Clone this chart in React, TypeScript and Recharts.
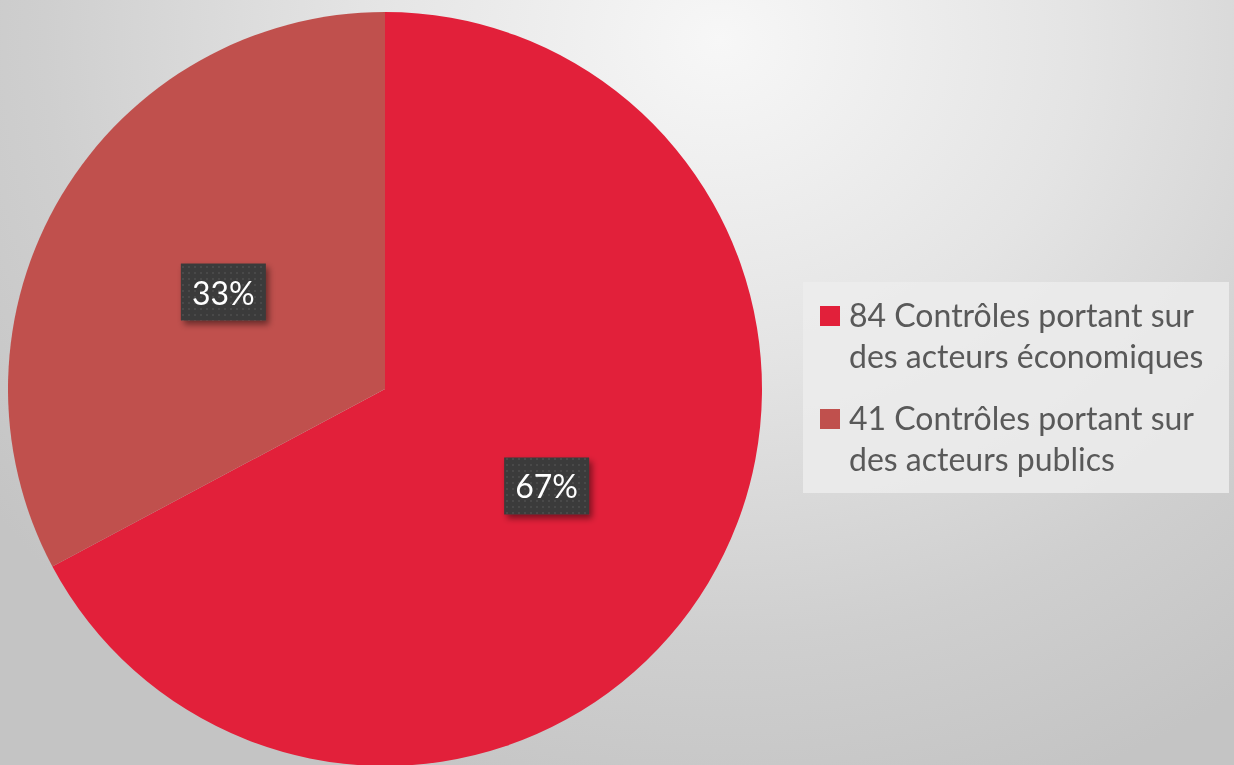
import { PieChart, Pie, Cell, Legend } from 'recharts';

const categories = [
  '84 Contrôles portant sur des acteurs économiques',
  '41 Contrôles portant sur des acteurs publics',
];
const counts = [84, 41];
const colors = ['#E2203A', '#C0504D'];

const data = categories.map((name, i) => ({ name, value: counts[i] }));

const RAD = Math.PI / 180;

function renderLabel(props: any) {
  const { cx, cy, midAngle, outerRadius, percent, index } = props;
  const r = outerRadius * 0.5;
  const x = cx + r * Math.cos(-midAngle * RAD);
  const y = cy + r * Math.sin(-midAngle * RAD);
  const w = 85;
  const h = 57;
  const pid = `dots-${index}`;
  const fid = `shadow-${index}`;
  return (
    <g>
      <defs>
        <pattern id={pid} width="6" height="6" patternUnits="userSpaceOnUse">
          <rect width="6" height="6" fill="#3a3a3a" />
          <rect x="2" y="2" width="2" height="2" fill="#4a4a4a" />
        </pattern>
        <filter id={fid} x="-30%" y="-30%" width="160%" height="160%">
          <feDropShadow dx="3" dy="4" stdDeviation="3" floodColor="#000" floodOpacity="0.45" />
        </filter>
      </defs>
      <rect x={x - w / 2} y={y - h / 2} width={w} height={h} fill={`url(#${pid})`} filter={`url(#${fid})`} />
      <text
        x={x}
        y={y}
        fill="#ffffff"
        fontSize={32}
        fontFamily="Lato, sans-serif"
        textAnchor="middle"
        dominantBaseline="central"
      >
        {`${Math.round(percent * 100)}%`}
      </text>
    </g>
  );
}

function renderLegend(props: any) {
  // keep the series order (the default sorter puts "41" first)
  const payload = [...props.payload].sort(
    (a: any, b: any) => categories.indexOf(a.value) - categories.indexOf(b.value)
  );
  return (
    <div
      style={{
        background: 'rgba(236,236,236,0.85)',
        width: 426,
        height: 211,
        boxSizing: 'border-box',
        padding: '12px 0 0 17px',
        fontFamily: 'Lato, sans-serif',
        fontSize: 32,
        lineHeight: '41px',
        color: '#595959',
      }}
    >
      {payload.map((entry: any, i: number) => (
        <div key={i} style={{ display: 'flex', marginBottom: 21 }}>
          <div
            style={{
              width: 20,
              height: 20,
              marginTop: 12,
              marginRight: 9,
              background: entry.color,
              flexShrink: 0,
            }}
          />
          <div style={{ width: 375 }}>{entry.value}</div>
        </div>
      ))}
    </div>
  );
}

export default function App() {
  return (
    <div
      style={{
        position: 'fixed',
        left: 0,
        top: 0,
        width: 1234,
        height: 765,
        overflow: 'hidden',
        background:
          'radial-gradient(ellipse 900px 800px at 720px 40px, #f7f7f7 0%, #e4e4e4 40%, #cfcfcf 75%, #c4c4c4 100%)',
      }}
    >
      <PieChart width={1234} height={765} margin={{ top: 0, right: 0, bottom: 0, left: 0 }}>
        <Pie
          data={data}
          dataKey="value"
          nameKey="name"
          cx={385}
          cy={389}
          outerRadius={377}
          startAngle={90}
          endAngle={-270}
          stroke="none"
          label={renderLabel}
          labelLine={false}
          isAnimationActive={false}
        >
          {data.map((_, i) => (
            <Cell key={i} fill={colors[i]} />
          ))}
        </Pie>
        <Legend
          content={renderLegend}
          layout="vertical"
          align="right"
          verticalAlign="middle"
          wrapperStyle={{ left: 803, top: 282, width: 426, height: 211, right: 'auto', bottom: 'auto' }}
        />
      </PieChart>
    </div>
  );
}
